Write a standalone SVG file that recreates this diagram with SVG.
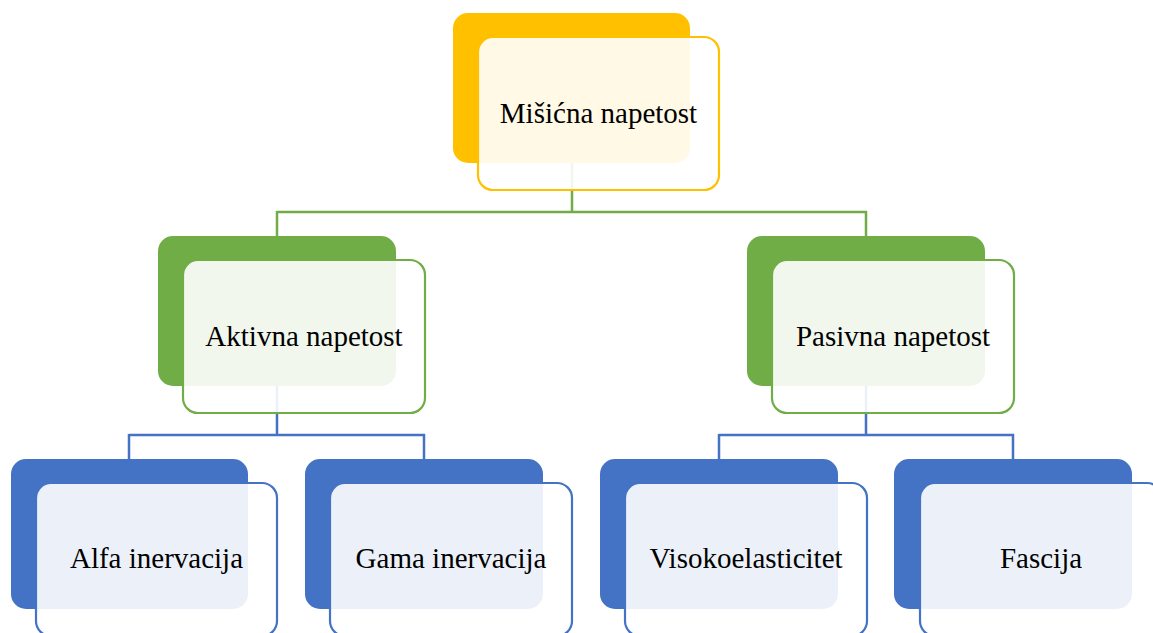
<svg xmlns="http://www.w3.org/2000/svg" width="1153" height="633" viewBox="0 0 1153 633">
<style>
.back{stroke:none}
.front{fill:#ffffff;fill-opacity:0.9;stroke-width:2.2}
.gold .back{fill:#FFC000}.gold .front{stroke:#FFC000}
.green .back{fill:#70AD47}.green .front{stroke:#70AD47}
.blue .back{fill:#4472C4}.blue .front{stroke:#4472C4}
.lbl{font-family:"Liberation Serif","Times New Roman",serif;font-size:29px;fill:#000;text-anchor:middle}
.cg{fill:none;stroke:#70AD47;stroke-width:2.5}
.cb{fill:none;stroke:#4472C4;stroke-width:2.5}
</style>
<rect width="1153" height="633" fill="#ffffff"/>
<g id="connectors">
<path class="cg" d="M572,163 V212 M277,212 H867 M277,211 V236 M866,211 V236"/>
<path class="cb" d="M277,386 V435 M129,435 H425 M129,434 V459 M424,434 V459"/>
<path class="cb" d="M866,386 V435 M719,435 H1014 M719,434 V459 M1013,434 V459"/>
</g>
<g id="n-misicna" class="gold">
<rect class="back" x="453" y="13" width="237" height="150" rx="15"/>
<rect class="front" x="478" y="37" width="241" height="153" rx="15"/>
<text class="lbl" x="598.5" y="123">Mišićna napetost</text>
</g>
<g id="n-aktivna" class="green">
<rect class="back" x="158" y="236" width="238" height="150" rx="15"/>
<rect class="front" x="183" y="260" width="242" height="153" rx="15"/>
<text class="lbl" x="304" y="346">Aktivna napetost</text>
</g>
<g id="n-pasivna" class="green">
<rect class="back" x="747" y="236" width="238" height="150" rx="15"/>
<rect class="front" x="772" y="260" width="242" height="153" rx="15"/>
<text class="lbl" x="893" y="346">Pasivna napetost</text>
</g>
<g id="n-alfa" class="blue">
<rect class="back" x="11" y="459" width="237" height="150" rx="15"/>
<rect class="front" x="36" y="483" width="241" height="153" rx="15"/>
<text class="lbl" x="156.5" y="568">Alfa inervacija</text>
</g>
<g id="n-gama" class="blue">
<rect class="back" x="305" y="459" width="238" height="150" rx="15"/>
<rect class="front" x="330" y="483" width="242" height="153" rx="15"/>
<text class="lbl" x="451" y="568">Gama inervacija</text>
</g>
<g id="n-visko" class="blue">
<rect class="back" x="600" y="459" width="238" height="150" rx="15"/>
<rect class="front" x="625" y="483" width="242" height="153" rx="15"/>
<text class="lbl" x="746" y="568">Visokoelasticitet</text>
</g>
<g id="n-fascija" class="blue">
<rect class="back" x="894" y="459" width="238" height="150" rx="15"/>
<rect class="front" x="920" y="483" width="242" height="153" rx="15"/>
<text class="lbl" x="1041" y="568">Fascija</text>
</g>
</svg>
